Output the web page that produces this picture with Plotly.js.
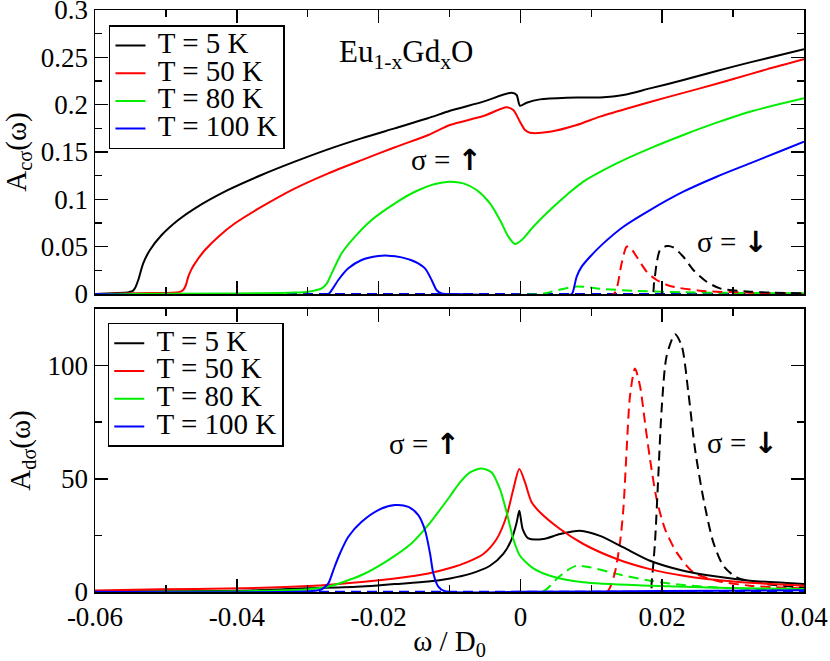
<!DOCTYPE html>
<html>
<head>
<meta charset="utf-8">
<script src="https://cdn.plot.ly/plotly-3.0.1.min.js"></script>
<style>html,body{margin:0;padding:0;background:#fff;}#chart{width:830px;height:661px;}</style>
</head>
<body>
<div id="chart"></div>
<script>
// ---------- labels ----------
const tempLabels = ['T = 5 K', 'T = 50 K', 'T = 80 K', 'T = 100 K'];
const xTickVals = [-0.06, -0.04, -0.02, 0, 0.02, 0.04];
const xTickText = ['-0.06', '-0.04', '-0.02', '0', '0.02', '0.04'];
const xMinorVals = [-0.05, -0.03, -0.01, 0.01, 0.03];
const yTopTickVals = [0, 0.05, 0.1, 0.15, 0.2, 0.25, 0.3];
const yTopTickText = ['0', '0.05', '0.1', '0.15', '0.2', '0.25', '0.3'];
const yTopMinorVals = [0.025, 0.075, 0.125, 0.175, 0.225, 0.275];
const yBotTickVals = [0, 50, 100];
const yBotTickText = ['0', '50', '100'];
const yBotMinorVals = [25, 75, 125];

// ---------- top panel: A_c sigma, spin up (solid) ----------
const xCUp5 = [-0.06,-0.057,-0.0552,-0.0547,-0.05437,-0.0539,-0.0532,-0.05225,-0.0506,-0.04826,-0.0459,-0.04122,-0.03653,-0.03183,-0.02714,-0.02244,-0.01775,-0.01305,-0.00993,-0.00523,-0.00123,-0.00053,-0.00006,0.00088,0.00276,0.00653,0.01123,0.01452,0.01828,0.02298,0.02768,0.03238,0.03708,0.04];
const yCUp5 = [0,0.001,0.002,0.003,0.006,0.0148,0.0324,0.0465,0.0623,0.0782,0.0905,0.1099,0.1257,0.1398,0.1528,0.1644,0.175,0.1856,0.1935,0.2032,0.2127,0.2102,0.1989,0.202,0.2056,0.2074,0.2077,0.2102,0.2172,0.226,0.2356,0.2447,0.2532,0.2585];

const xCUp50 = [-0.06,-0.052,-0.0482,-0.0476,-0.0472,-0.04684,-0.0464,-0.0459,-0.04449,-0.0426,-0.04025,-0.03649,-0.03179,-0.02709,-0.02239,-0.01769,-0.01299,-0.00993,-0.00523,-0.00194,-0.001,-0.00006,0.00065,0.00135,0.00417,0.00794,0.01123,0.01593,0.02063,0.02533,0.03003,0.03473,0.04];
const yCUp50 = [0,0.001,0.002,0.004,0.009,0.0183,0.026,0.0324,0.0465,0.0606,0.0747,0.0922,0.1116,0.1275,0.1415,0.155,0.168,0.1785,0.188,0.1972,0.1944,0.182,0.1732,0.1704,0.1714,0.1785,0.1874,0.1979,0.2077,0.2172,0.2271,0.2373,0.2479];

const xCUp80 = [-0.06,-0.04,-0.03179,-0.02991,-0.02803,-0.02732,-0.02662,-0.02521,-0.02333,-0.02098,-0.01769,-0.01487,-0.01205,-0.01,-0.00805,-0.00617,-0.00429,-0.00288,-0.0017,-0.00076,0.00018,0.00182,0.00417,0.00653,0.00888,0.01358,0.01828,0.02298,0.02768,0.03238,0.04];
const yCUp80 = [0,0.0005,0.0015,0.0025,0.006,0.011,0.0218,0.043,0.0606,0.0782,0.0958,0.108,0.1162,0.1187,0.1169,0.1099,0.0958,0.0782,0.0606,0.0528,0.057,0.0711,0.0887,0.1046,0.1187,0.138,0.1539,0.168,0.181,0.1926,0.2067];

const xCUp100 = [-0.06,-0.02709,-0.02662,-0.02568,-0.02427,-0.02239,-0.02004,-0.01863,-0.01675,-0.01487,-0.01346,-0.01252,-0.01181,-0.0111,-0.009,0.00723,0.00747,0.00794,0.00864,0.00982,0.0117,0.01452,0.01828,0.02298,0.02768,0.03238,0.03708,0.04];
const yCUp100 = [0,0,0.004,0.0148,0.0271,0.0359,0.0401,0.0405,0.0387,0.0341,0.0271,0.0148,0.004,0.0005,0,0,0.004,0.0183,0.0289,0.0394,0.0535,0.0711,0.0887,0.1081,0.1239,0.138,0.1521,0.1609];

// ---------- top panel: spin down (dashed) ----------
const xCDn5 = [-0.06,0.01851,0.01884,0.01922,0.01969,0.02063,0.02157,0.02298,0.02439,0.02627,0.02815,0.03238,0.04];
const yCDn5 = [0,0,0.011,0.0324,0.0465,0.0507,0.0493,0.0394,0.0254,0.013,0.006,0.0025,0.0007];
const xCDn50 = [-0.06,0.01311,0.01358,0.01428,0.01499,0.01546,0.0164,0.01781,0.01922,0.0211,0.02533,0.03238,0.04];
const yCDn50 = [0,0,0.006,0.0324,0.05,0.0493,0.0394,0.0236,0.0148,0.0085,0.0035,0.0014,0];
const xCDn80 = [-0.06,0.00276,0.00417,0.00747,0.00888,0.01123,0.01593,0.02298,0.04];
const yCDn80 = [0,0,0.002,0.0077,0.0077,0.0056,0.0035,0.0018,0.0007];
const xCDn100 = [-0.06,0.04];
const yCDn100 = [0,0];

// ---------- bottom panel: A_d sigma, spin up (solid) ----------
const xDUp5 = [-0.06,-0.04,-0.03,-0.02239,-0.01769,-0.01299,-0.00993,-0.00711,-0.00429,-0.00241,-0.00123,-0.00053,-0.00015,0.00032,0.00112,0.00323,0.00559,0.00841,0.01123,0.01452,0.01828,0.02298,0.02768,0.03238,0.04];
const yDUp5 = [0.3,0.5,1.6,2.4,3.5,4.6,6,8,11.6,16.8,23.4,30.7,35.9,27.8,23.7,23.4,25.6,27.1,24.8,19.7,13.8,9.4,6.8,5,3.5];

const xDUp50 = [-0.06,-0.0506,-0.04122,-0.02991,-0.02239,-0.01769,-0.01299,-0.00993,-0.00758,-0.00523,-0.00335,-0.00194,-0.001,-0.00015,0.00065,0.00159,0.00276,0.00559,0.00888,0.01358,0.01828,0.02298,0.03003,0.04];
const yDUp50 = [0.7,1.2,1.5,2.6,4.4,6,8.2,10.6,13.1,16.8,23.4,33.7,45.4,54.3,48.4,39.6,35.2,27.8,21.2,14.6,10.1,7.2,4.6,2.8];

const xDUp80 = [-0.06,-0.03649,-0.02991,-0.02709,-0.02239,-0.01863,-0.01534,-0.01299,-0.00993,-0.00852,-0.00711,-0.00546,-0.00405,-0.00288,-0.00194,-0.001,-0.00006,0.00182,0.00417,0.00888,0.01828,0.02768,0.04];
const yDUp80 = [0,0.5,1.2,2.4,7.5,14.1,21.5,29.6,42.3,48.4,52.8,54.6,52.8,45.4,35.2,23.4,16,10.4,7.2,4.3,2.8,1.9,1.3];

const xDUp100 = [-0.06,-0.02991,-0.02803,-0.02709,-0.02638,-0.02544,-0.02427,-0.02239,-0.02004,-0.01769,-0.01581,-0.0144,-0.01346,-0.01275,-0.01228,-0.01158,-0.01064,0,0.02,0.04];
const yDUp100 = [0.1,0.3,1.2,3.8,9.7,17.1,24.4,31,36.2,38.4,37.6,34,27.4,17.1,8.2,2.4,0.3,0.1,0.4,0.8];

// ---------- bottom panel: spin down (dashed) ----------
const xDDn5 = [-0.06,0.01828,0.01851,0.01898,0.01945,0.01992,0.02063,0.02181,0.02275,0.02369,0.02463,0.0258,0.02721,0.02862,0.0305,0.03473,0.04];
const yDDn5 = [0,0,4.3,21.9,51.3,80.7,104.3,113.8,108.7,88.1,63.1,41.4,21.9,11.6,6.5,3.5,2];
const xDDn50 = [-0.06,0.01217,0.01264,0.01334,0.01405,0.01452,0.01499,0.01546,0.01616,0.01687,0.01757,0.01828,0.01922,0.0204,0.02204,0.02439,0.02768,0.03238,0.04];
const yDDn50 = [0,0,2,8.7,21.9,36.6,63.1,86.6,98.7,91,74.9,58.7,41,27.8,17.5,8.7,5,2.8,1.6];
const xDDn80 = [-0.06,0.00276,0.0037,0.00511,0.00653,0.00794,0.00982,0.01358,0.01828,0.02298,0.03003,0.04];
const yDDn80 = [0,0,1.3,5.7,9.4,11.6,10.9,8,5,3.1,1.6,0.9];
const xDDn100 = [-0.06,0.04];
const yDDn100 = [0,0.2];

// ---------- build traces ----------
const colors = ['#000000', '#ff0000', '#00ee00', '#0000ff'];
const FONT = '"Liberation Serif", "Times New Roman", Times, serif';
const LW = 2;

function tr(x, y, i, xa, ya, dashed, legendId) {
  return {
    x: x, y: y, type: 'scatter', mode: 'lines',
    xaxis: xa, yaxis: ya,
    line: {color: colors[i], width: LW, dash: dashed ? '10px,6px' : 'solid', shape: 'spline', smoothing: 0.75},
    name: '<span style="font-size:29px">\u00a0' + tempLabels[i] + '</span>',
    showlegend: !dashed,
    legend: legendId,
    hoverinfo: 'skip'
  };
}

const topUp = [[xCUp5,yCUp5],[xCUp50,yCUp50],[xCUp80,yCUp80],[xCUp100,yCUp100]];
const topDn = [[xCDn5,yCDn5],[xCDn50,yCDn50],[xCDn80,yCDn80],[xCDn100,yCDn100]];
const botUp = [[xDUp5,yDUp5],[xDUp50,yDUp50],[xDUp80,yDUp80],[xDUp100,yDUp100]];
const botDn = [[xDDn5,yDDn5],[xDDn50,yDDn50],[xDDn80,yDDn80],[xDDn100,yDDn100]];

const data = [];
topDn.slice().reverse().forEach((d, k) => data.push(tr(d[0], d[1], 3 - k, 'x2', 'y2', true, 'legend')));
topUp.forEach((d, i) => data.push(tr(d[0], d[1], i, 'x2', 'y2', false, 'legend')));
botDn.slice().reverse().forEach((d, k) => data.push(tr(d[0], d[1], 3 - k, 'x', 'y', true, 'legend2')));
botUp.forEach((d, i) => data.push(tr(d[0], d[1], i, 'x', 'y', false, 'legend2')));

const tickFont = {family: FONT, size: 27, color: '#000'};
const axisCommon = {
  showline: true, linecolor: '#000', linewidth: 1.5, mirror: 'ticks',
  ticks: 'inside', ticklen: 13, tickwidth: 1.5, tickcolor: '#000',
  showgrid: false, zeroline: false, tickfont: tickFont, tickmode: 'array',
  ticklabeloverflow: 'allow'
};
function minor(vals) {
  return {tickmode: 'array', tickvals: vals, ticks: 'inside', ticklen: 7, tickwidth: 1.5, tickcolor: '#000', showgrid: false};
}

const legendCommon = {
  font: {family: FONT, size: 19, color: '#000'},
  bgcolor: '#ffffff', bordercolor: '#000', borderwidth: 1.5,
  xanchor: 'left', yanchor: 'top', tracegroupgap: 0, itemwidth: 30
};

const annFont = {family: FONT, size: 29, color: '#000'};
const arrowUp = 'σ = <span style="font-family:DejaVu Sans;font-weight:bold">↑</span>';
const arrowDn = 'σ = <span style="font-family:DejaVu Sans;font-weight:bold">↓</span>';
const layout = {
  width: 830, height: 661,
  margin: {l: 95, r: 26, t: 10, b: 69},
  paper_bgcolor: '#fff', plot_bgcolor: '#fff',
  showlegend: true,
  font: {family: FONT, color: '#000'},
  xaxis: Object.assign({}, axisCommon, {
    domain: [0, 1], anchor: 'y', range: [-0.06, 0.04],
    tickvals: xTickVals, ticktext: xTickText, minor: minor(xMinorVals),
    title: {text: 'ω / D<sub>0</sub>', font: {family: FONT, size: 29, color: '#000'}, standoff: 6}
  }),
  xaxis2: Object.assign({}, axisCommon, {
    domain: [0, 1], anchor: 'y2', range: [-0.06, 0.04], matches: 'x',
    tickvals: xTickVals, ticktext: xTickText, showticklabels: false, minor: minor(xMinorVals)
  }),
  yaxis: Object.assign({}, axisCommon, {
    domain: [0, 0.4863], anchor: 'x', range: [0, 125.01],
    tickvals: yBotTickVals, ticktext: yBotTickText, minor: minor(yBotMinorVals),
    title: {text: 'A<sub>dσ</sub>(ω)', font: {family: FONT, size: 29, color: '#000'}, standoff: 8}
  }),
  yaxis2: Object.assign({}, axisCommon, {
    domain: [0.512, 1], anchor: 'x2', range: [0, 0.30001],
    tickvals: yTopTickVals, ticktext: yTopTickText, minor: minor(yTopMinorVals),
    title: {text: 'A<sub>cσ</sub>(ω)', font: {family: FONT, size: 29, color: '#000'}, standoff: 8}
  }),
  legend: Object.assign({}, legendCommon, {x: 0.0197, y: 0.974}),
  legend2: Object.assign({}, legendCommon, {x: 0.018, y: 0.4622}),
  annotations: [
    {xref: 'x2', yref: 'y2', x: -0.0161, y: 0.254, text: 'Eu<sub>1-x</sub>Gd<sub>x</sub>O', showarrow: false, font: {family: FONT, size: 31, color: '#000'}},
    {xref: 'x2', yref: 'y2', x: -0.0104, y: 0.1415, text: arrowUp, showarrow: false, font: annFont},
    {xref: 'x2', yref: 'y2', x: 0.0299, y: 0.055, text: arrowDn, showarrow: false, font: annFont},
    {xref: 'x', yref: 'y', x: -0.01346, y: 65.3, text: arrowUp, showarrow: false, font: annFont},
    {xref: 'x', yref: 'y', x: 0.0313, y: 65.7, text: arrowDn, showarrow: false, font: annFont}
  ]
};

Plotly.newPlot('chart', data, layout, {staticPlot: true, displayModeBar: false});
</script>
</body>
</html>
